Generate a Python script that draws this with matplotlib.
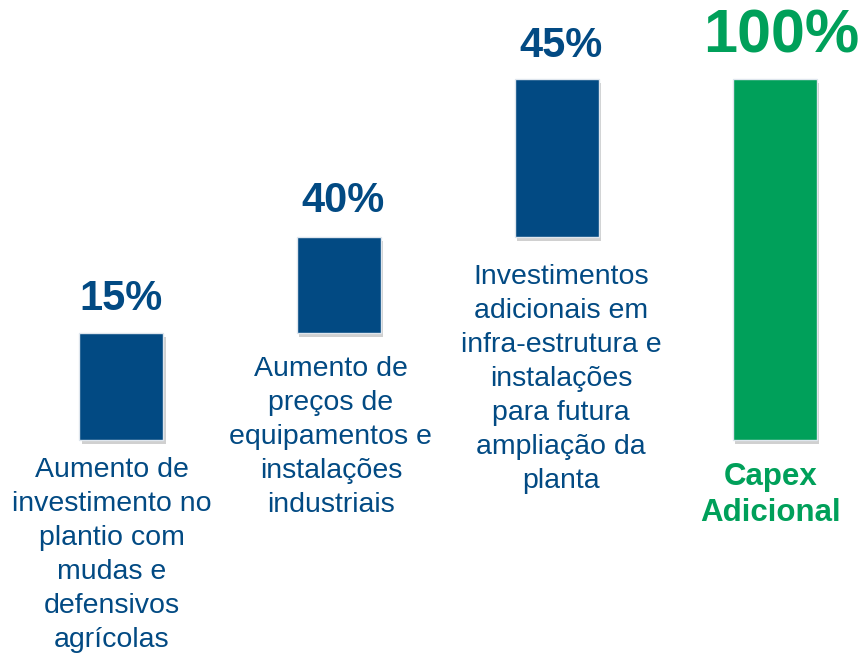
import matplotlib
matplotlib.use("Agg")
import matplotlib.pyplot as plt
import matplotlib.patheffects as pe

plt.rcParams["font.family"] = ["Liberation Sans", "DejaVu Sans"]

# ---- data (bar heights are schematic; total = 100) ----
steps = [29.6, 26.6, 43.8]          # floating steps of the bridge
total = 100.0
pct_labels = ["15%", "40%", "45%", "100%"]
descriptions = [
    "Aumento de\ninvestimento no\nplantio com\nmudas e\ndefensivos\nagrícolas",
    "Aumento de\npreços de\nequipamentos e\ninstalações\nindustriais",
    "Investimentos\nadicionais em\ninfra-estrutura e\ninstalações\npara futura\nampliação da\nplanta",
    "Capex\nAdicional",
]

BLUE = "#024A83"
GREEN = "#00A05A"

fig = plt.figure(figsize=(8.68, 6.61), dpi=100)
ax = fig.add_axes([0, 0, 1, 1])
ax.set_xlim(-0.558, 3.429)
ax.set_ylim(-61.2, 121.9)
ax.axis("off")

bottoms, heights = [], []
run = 0.0
for s in steps:
    bottoms.append(run)
    heights.append(s)
    run += s
bottoms.append(0.0)
heights.append(total)
colors = [BLUE, BLUE, BLUE, GREEN]
xs = list(range(len(heights)))

shadow = [pe.SimplePatchShadow(offset=(1.5, -3), shadow_rgbFace="#7a7a7a", alpha=0.35),
          pe.Normal()]
bars = ax.bar(xs, heights, bottom=bottoms, width=0.386, color=colors,
              edgecolor="#dfe6ee", linewidth=1.0, zorder=3)
for b in bars:
    b.set_path_effects(shadow)

# percentage labels above each bar
pct_sizes = [30, 30, 30, 44]
pct_dx = [0, 3, 3, 5]
pct_dy = [17, 18, 16, 19]
for i, (b, lab) in enumerate(zip(bars, pct_labels)):
    top = b.get_y() + b.get_height()
    ax.annotate(lab, (xs[i], top), xytext=(pct_dx[i], pct_dy[i]), textcoords="offset points",
                ha="center", va="baseline", fontsize=pct_sizes[i], weight="bold",
                color=colors[i])

# descriptions below each bar
desc_dx = [-7, -6, 3, -3]
desc_dy = [-12, -16.5, -19.4, -15.8]
for i, (b, txt) in enumerate(zip(bars, descriptions)):
    last = i == len(descriptions) - 1
    ax.annotate(txt, (xs[i], b.get_y()), xytext=(desc_dx[i], desc_dy[i]),
                textcoords="offset points", ha="center", va="top",
                multialignment="center", linespacing=1.27 if last else 1.4,
                fontsize=22.5 if last else 20.5, weight="bold" if last else "normal",
                color=colors[i])

fig.savefig("out.png", dpi=100, facecolor="white")
